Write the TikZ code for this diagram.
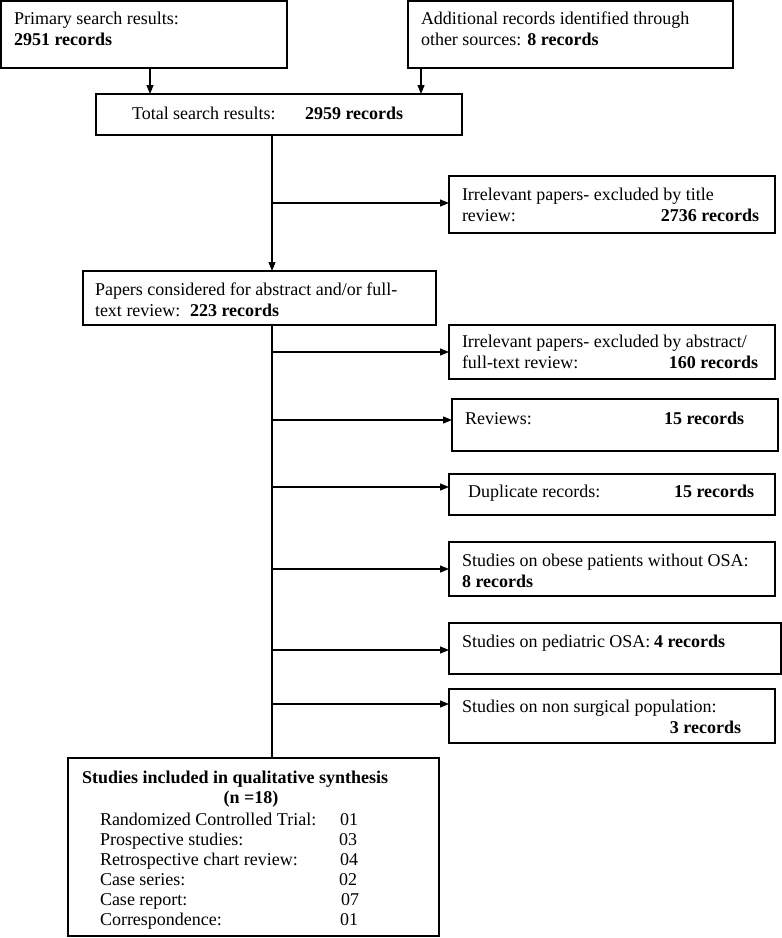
\documentclass[tikz,border=0pt]{standalone}
\usepackage{fontspec}
\setmainfont{Liberation Serif}
\usetikzlibrary{arrows.meta,calc}
\begin{document}
\begin{tikzpicture}[x=1pt,y=-1pt,
  box/.style={draw, line width=1.6pt, anchor=north west, inner sep=0pt, outer sep=0pt},
  txt/.style={anchor=base west, inner sep=0pt, outer sep=0pt, font=\fontsize{18}{22}\selectfont},
  txtr/.style={txt, anchor=base east},
  link/.style={line width=1.2pt},
  arr/.style={link, -{Triangle[length=9pt,width=7pt]}}]
\useasboundingbox[fill=white] (0,0) rectangle (782,938);

% boxes
\node[box, minimum width=286pt, minimum height=67pt] (b1) at (1,1) {};
\node[box, minimum width=325pt, minimum height=67pt] (b2) at (408,1) {};
\node[box, minimum width=366pt, minimum height=41pt] (b3) at (96,94) {};
\node[box, minimum width=326pt, minimum height=57pt] (e1) at (449,176) {};
\node[box, minimum width=353pt, minimum height=54pt] (b4) at (83,271) {};
\node[box, minimum width=326pt, minimum height=54pt] (e2) at (449,325) {};
\node[box, minimum width=326pt, minimum height=52pt] (e3) at (452,399) {};
\node[box, minimum width=326pt, minimum height=41pt] (e4) at (449,474) {};
\node[box, minimum width=326pt, minimum height=54pt] (e5) at (449,542) {};
\node[box, minimum width=332pt, minimum height=51pt] (e6) at (449,623) {};
\node[box, minimum width=326pt, minimum height=54pt] (e7) at (449,689) {};
\node[box, minimum width=371pt, minimum height=178pt] (b5) at (68,758) {};

% texts
\node[txt] (t1a) at (14,24) {Primary search results:};
\node[txt] (t1b) at (14,45) {\textbf{2951 records}};
\node[txt] (t2a) at (421,24) {Additional records identified through};
\node[txt] (t2b) at (421,45) {other sources: \textbf{8 records}};
\node[txt] (t3a) at (132,119) {Total search results:};
\node[txt] (t3b) at (305,119) {\textbf{2959 records}};
\node[txt] (te1a) at (462,200) {Irrelevant papers- excluded by title};
\node[txt] (te1b) at (462,221) {review:};
\node[txtr] (te1c) at (759,221) {\textbf{2736 records}};
\node[txt] (t4a) at (95,295) {Papers considered for abstract and/or full-};
\node[txt] (t4b) at (95,316) {text review:};
\node[txt] (t4c) at (190,316) {\textbf{223 records}};
\node[txt] (te2a) at (462,347) {Irrelevant papers- excluded by abstract/};
\node[txt] (te2b) at (462,368) {full-text review:};
\node[txtr] (te2c) at (758,368) {\textbf{160 records}};
\node[txt] (te3a) at (465,424) {Reviews:};
\node[txt] (te3b) at (664,424) {\textbf{15 records}};
\node[txt] (te4a) at (468,497) {Duplicate records:};
\node[txt] (te4b) at (674,497) {\textbf{15 records}};
\node[txt] (te5a) at (462,566) {Studies on obese patients without OSA:};
\node[txt] (te5b) at (462,587) {\textbf{8 records}};
\node[txt] (te6a) at (462,647) {Studies on pediatric OSA:};
\node[txt] (te6b) at (654,647) {\textbf{4 records}};
\node[txt] (te7a) at (462,712) {Studies on non surgical population:};
\node[txtr] (te7b) at (741,733) {\textbf{3 records}};
\node[txt] (t5a) at (82,783) {\textbf{Studies included in qualitative synthesis}};
\node[txt, anchor=base] (t5b) at (251,803) {\textbf{(n =18)}};
\node[txt] (r1) at (100,825) {Randomized Controlled Trial:};
\node[txt] (r2) at (100,845) {Prospective studies:};
\node[txt] (r3) at (100,865) {Retrospective chart review:};
\node[txt] (r4) at (100,885) {Case series:};
\node[txt] (r5) at (100,905) {Case report:};
\node[txt] (r6) at (100,925) {Correspondence:};
\node[txt] (v1) at (340,825) {01};
\node[txt] (v2) at (339,845) {03};
\node[txt] (v3) at (340,865) {04};
\node[txt] (v4) at (339,885) {02};
\node[txt] (v5) at (341,905) {07};
\node[txt] (v6) at (340,925) {01};

% connectors
\coordinate (c1) at (150,0);
\coordinate (c2) at (421,0);
\coordinate (spine) at (272,0);
\draw[arr] (b1.south -| c1) -- (b3.north -| c1);
\draw[arr] (b2.south -| c2) -- (b3.north -| c2);
\draw[arr] (b3.south -| spine) -- (b4.north -| spine);
\draw[link] (b4.south -| spine) -- (b5.north -| spine);
\coordinate (a1) at ($(e1.north west)+(0,27)$);
\coordinate (a2) at ($(e2.north west)+(0,27)$);
\coordinate (a3) at ($(e3.north west)+(0,21)$);
\coordinate (a4) at ($(e4.north west)+(0,13)$);
\coordinate (a5) at ($(e5.north west)+(0,27)$);
\coordinate (a6) at ($(e6.north west)+(0,27)$);
\coordinate (a7) at ($(e7.north west)+(0,15)$);
\foreach \a in {a1,a2,a3,a4,a5,a6,a7}{
  \draw[arr] (\a -| spine) -- (\a);
}
\end{tikzpicture}
\end{document}
